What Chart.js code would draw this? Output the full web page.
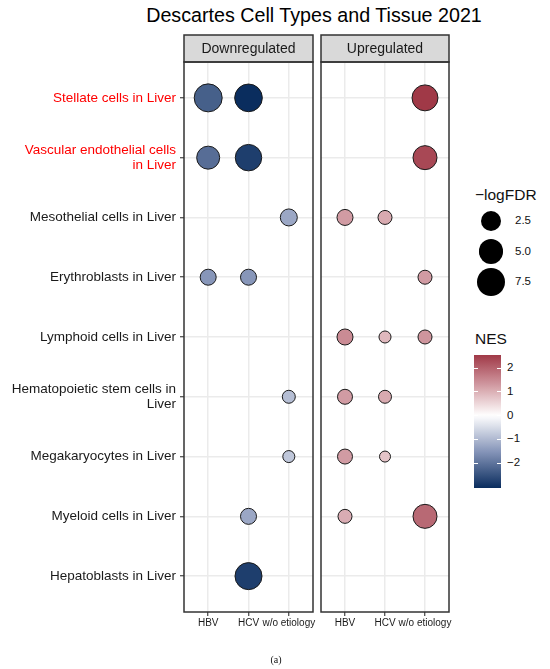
<!DOCTYPE html>
<html>
<head>
<meta charset="utf-8">
<script src="https://cdn.jsdelivr.net/npm/chart.js@4.4.0/dist/chart.umd.min.js"></script>
<style>
  body { margin: 0; background: #fff; font-family: "Liberation Sans", Arial, sans-serif; color: #1a1a1a; }
  #wrap { position: relative; width: 550px; height: 669px; overflow: hidden; }
  canvas { position: absolute; top: 0; }
  .txt { position: absolute; white-space: nowrap; line-height: 1; color: #111; }
  #title { left: 314px; top: 6px; font-size: 19.7px; transform: translateX(-50%); color: #000; }
  #caption { left: 276px; top: 655px; font-family: "Liberation Serif", "Times New Roman", serif; font-size: 10px; transform: translateX(-50%); }
  .dot { position: absolute; border-radius: 50%; background: #000; }
  .tick { position: absolute; height: 1px; width: 4px; background: #fff; }
</style>
</head>
<body>
<div id="wrap">
  <div id="title" class="txt">Descartes Cell Types and Tissue 2021</div>
  <canvas id="down" width="318" height="669" style="left:0"></canvas>
  <canvas id="up" width="138" height="669" style="left:316px"></canvas>
  <div id="legends"></div>
  <div id="caption" class="txt">(a)</div>
</div>

<script>
"use strict";

var cellTypes = [
  "Stellate cells in Liver",
  "Vascular endothelial cells in Liver",
  "Mesothelial cells in Liver",
  "Erythroblasts in Liver",
  "Lymphoid cells in Liver",
  "Hematopoietic stem cells in Liver",
  "Megakaryocytes in Liver",
  "Myeloid cells in Liver",
  "Hepatoblasts in Liver"
];
var redLabels = ["Stellate cells in Liver", "Vascular endothelial cells in Liver"];
var etiologies = ["HBV", "HCV", "w/o etiology"];

// rows follow cellTypes, columns follow etiologies (null = not significant)
var downNES = [
  [-2.3, -3.05, null],
  [-2.1, -2.8, null],
  [null, null, -1.25],
  [-1.5, -1.5, null],
  [null, null, null],
  [null, null, -0.93],
  [null, null, -0.8],
  [null, -1.25, null],
  [null, -2.8, null]
];
var downLogFDR = [
  [8.6, 8.3, null],
  [4.6, 7.2, null],
  [null, null, 1.6],
  [1.3, 1.3, null],
  [null, null, null],
  [null, null, 0.71],
  [null, null, 0.63],
  [null, 1.3, null],
  [null, 7.7, null]
];
var upNES = [
  [null, null, 2.55],
  [null, null, 2.35],
  [1.27, 1.08, null],
  [null, null, 1.27],
  [1.47, 0.9, 1.35],
  [1.27, 1.08, null],
  [1.27, 0.75, null],
  [1.05, null, 1.92],
  [null, null, null]
];
var upLogFDR = [
  [null, null, 6.8],
  [null, null, 5.3],
  [1.3, 0.85, null],
  [null, null, 0.85],
  [1.3, 0.63, 0.85],
  [1.04, 0.71, null],
  [1.04, 0.6, null],
  [0.85, null, 5.3],
  [null, null, null]
];
var sizeBreaks = [2.5, 5.0, 7.5];
var nesBreaks = [2, 1, 0, -1, -2];

Chart.defaults.font.family = '"Liberation Sans", Arial, sans-serif';

function present(arr) {
  return arr.reduce(function(a, row) { return a.concat(row); }, []).filter(function(v) { return v !== null; });
}

var allFDR = present(downLogFDR).concat(present(upLogFDR));
var fdrMin = Math.min.apply(null, allFDR);
var fdrMax = Math.max.apply(null, allFDR);
var allNES = present(downNES).concat(present(upNES));
var nesMin = Math.min.apply(null, allNES);
var nesMax = Math.max.apply(null, allNES);
var nesExtent = Math.max(Math.abs(nesMin), Math.abs(nesMax));

// visible diameter of a bubble, area-like scale
function diameter(v) {
  var t = Math.max(0, (v - fdrMin) / (fdrMax - fdrMin));
  return 12 + 17 * Math.sqrt(t);
}

// diverging palette: white -> mid -> end on each side
var WHITE = [255, 255, 255];
var LOW_MID = [133, 148, 184], LOW = [10, 45, 94];
var HIGH_MID = [200, 135, 144], HIGH = [140, 19, 35];
function mix(a, b, t) {
  return a.map(function(ch, i) { return ch + (b[i] - ch) * t; });
}
function nesColor(v) {
  var t = Math.min(1, Math.abs(v) / nesExtent);
  var mid = v < 0 ? LOW_MID : HIGH_MID, end = v < 0 ? LOW : HIGH;
  var rgb = t < 0.5 ? mix(WHITE, mid, t / 0.5) : mix(mid, end, (t - 0.5) / 0.5);
  return "rgb(" + rgb.map(Math.round).join(",") + ")";
}

function wrap(label) {
  var words = label.split(" "), lines = [], cur = "";
  words.forEach(function(w) {
    if (cur && (cur + " " + w).length > 27) { lines.push(cur); cur = w; }
    else { cur = cur ? cur + " " + w : w; }
  });
  lines.push(cur);
  return lines.length > 1 ? lines : lines[0];
}

function buildPoints(nes, fdr) {
  var out = [];
  cellTypes.forEach(function(c, i) {
    etiologies.forEach(function(e, j) {
      if (nes[i][j] !== null) out.push({ x: j, y: i, nes: nes[i][j], fdr: fdr[i][j] });
    });
  });
  return out;
}

// facet strip + panel border + x labels
var panelFrame = {
  id: "panelFrame",
  afterDraw: function(chart, args, opts) {
    var ctx = chart.ctx, a = chart.chartArea, stripTop = 35;
    var xs = chart.scales.x;
    ctx.save();
    ctx.fillStyle = "#D9D9D9";
    ctx.fillRect(a.left, stripTop, a.right - a.left, a.top - stripTop);
    ctx.strokeStyle = "#333333";
    ctx.lineWidth = 1.5;
    ctx.strokeRect(a.left, stripTop, a.right - a.left, a.top - stripTop);
    ctx.strokeRect(a.left, a.top, a.right - a.left, a.bottom - a.top);
    ctx.fillStyle = "#1A1A1A";
    ctx.font = '14px "Liberation Sans", Arial, sans-serif';
    ctx.textAlign = "center";
    ctx.textBaseline = "middle";
    ctx.fillText(opts.label, (a.left + a.right) / 2, (stripTop + a.top) / 2 + 1);
    ctx.font = '10px "Liberation Sans", Arial, sans-serif';
    ctx.textBaseline = "top";
    etiologies.forEach(function(e, i) {
      ctx.fillText(e, xs.getPixelForValue(i), a.bottom + 6);
    });
    ctx.restore();
  }
};

function zeroPadding(s) {
  s.paddingLeft = 0; s.paddingRight = 0; s.paddingTop = 0; s.paddingBottom = 0;
}

function makePanel(id, label, nes, fdr, showY, padding) {
  new Chart(document.getElementById(id), {
    type: "scatter",
    data: {
      datasets: [{
        data: buildPoints(nes, fdr),
        pointRadius: function(ctx) { return ctx.raw ? (diameter(ctx.raw.fdr) - 1) / 2 : 3; },
        pointHoverRadius: function(ctx) { return ctx.raw ? (diameter(ctx.raw.fdr) - 1) / 2 : 3; },
        backgroundColor: function(ctx) { return ctx.raw ? nesColor(ctx.raw.nes) : "#999"; },
        borderColor: "#1A1A1A",
        borderWidth: 1
      }]
    },
    options: {
      responsive: false,
      animation: false,
      events: [],
      layout: { padding: padding, autoPadding: false },
      plugins: { legend: { display: false }, tooltip: { enabled: false }, panelFrame: { label: label } },
      scales: {
        x: {
          type: "linear", min: -0.6, max: 2.6,
          afterBuildTicks: function(s) { s.ticks = etiologies.map(function(e, i) { return { value: i }; }); },
          afterFit: function(s) { s.height = 57; zeroPadding(s); },
          ticks: { display: false },
          grid: { color: "#EBEBEB", lineWidth: 1.5, tickColor: "#333333", tickLength: 4, tickWidth: 1.1 },
          border: { display: false }
        },
        y: {
          type: "linear", min: -0.6, max: 8.6, reverse: true,
          afterBuildTicks: function(s) { s.ticks = cellTypes.map(function(c, i) { return { value: i }; }); },
          afterFit: function(s) { s.width = showY ? 184 : 0; zeroPadding(s); },
          ticks: {
            display: showY,
            callback: function(v) { return wrap(cellTypes[v]); },
            color: function(ctx) { return redLabels.indexOf(cellTypes[ctx.index]) >= 0 ? "#FF0000" : "#1A1A1A"; },
            font: { size: 13.5, lineHeight: 1.12 }, padding: 4, autoSkip: false
          },
          grid: { color: "#EBEBEB", lineWidth: 1.5, drawTicks: showY, tickColor: "#333333", tickLength: 4, tickWidth: 1.1 },
          border: { display: false }
        }
      }
    },
    plugins: [panelFrame]
  });
}

makePanel("down", "Downregulated", downNES, downLogFDR, true, { left: 0, right: 5, top: 62, bottom: 0 });
makePanel("up", "Upregulated", upNES, upLogFDR, false, { left: 5, right: 5, top: 62, bottom: 0 });

// legends
(function() {
  var box = document.getElementById("legends");
  function add(html) { box.insertAdjacentHTML("beforeend", html); }

  add('<div class="txt" style="left:475px;top:187px;font-size:15.5px;">\u2212logFDR</div>');
  sizeBreaks.forEach(function(b, i) {
    var d = diameter(b), cy = 221 + i * 30.5;
    add('<div class="dot" style="left:' + (491 - d / 2) + 'px;top:' + (cy - d / 2) + 'px;width:' + d + 'px;height:' + d + 'px;"></div>');
    add('<div class="txt" style="left:515px;top:' + (cy - 6) + 'px;font-size:11.5px;">' + b.toFixed(1) + '</div>');
  });

  add('<div class="txt" style="left:475px;top:331px;font-size:15.5px;">NES</div>');
  var barTop = 355, barH = 133, barLeft = 474, barW = 27;
  var stops = [];
  for (var k = 0; k <= 40; k++) {
    var v = nesMax - (nesMax - nesMin) * k / 40;
    stops.push(nesColor(v) + " " + (k * 2.5) + "%");
  }
  add('<div style="position:absolute;left:' + barLeft + 'px;top:' + barTop + 'px;width:' + barW + 'px;height:' + barH +
      'px;background:linear-gradient(to bottom,' + stops.join(",") + ');"></div>');
  nesBreaks.forEach(function(b) {
    var y = barTop + (nesMax - b) / (nesMax - nesMin) * barH;
    add('<div class="tick" style="left:' + barLeft + 'px;top:' + (y - 0.5) + 'px;"></div>');
    add('<div class="tick" style="left:' + (barLeft + barW - 4) + 'px;top:' + (y - 0.5) + 'px;"></div>');
    var lbl = b < 0 ? "\u2212" + Math.abs(b) : String(b);
    add('<div class="txt" style="left:507px;top:' + (y - 6) + 'px;font-size:11.5px;">' + lbl + '</div>');
  });
})();
</script>
</body>
</html>
